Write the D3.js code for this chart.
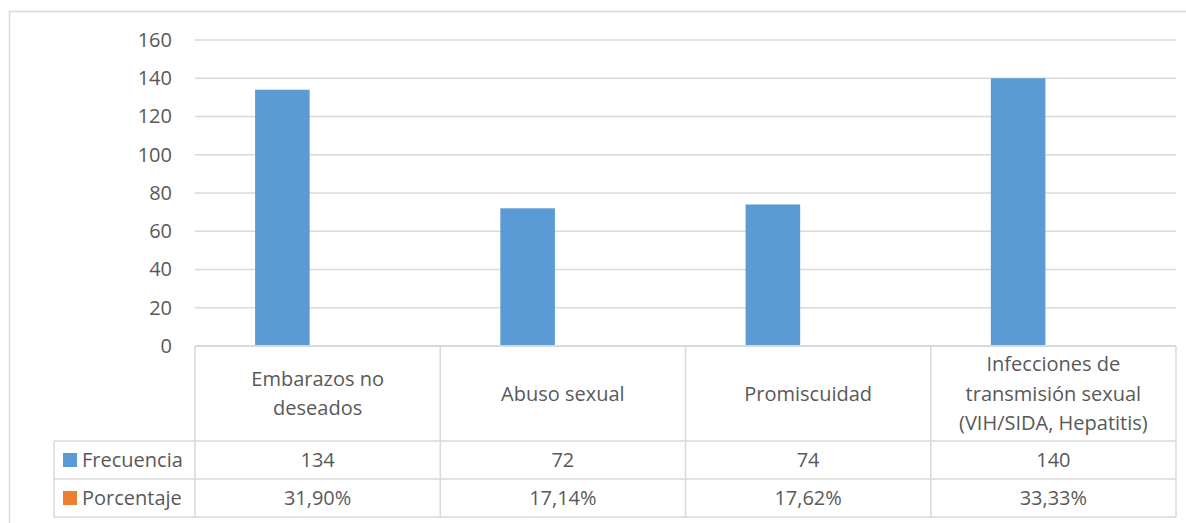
<!DOCTYPE html>
<html>
<head>
<meta charset="utf-8">
<script src="https://cdn.jsdelivr.net/npm/d3@7"></script>
<style>
  html, body { margin: 0; padding: 0; background: #fff; }
  svg { display: block; }
  text { font-family: "Open Sans", sans-serif; fill: #595959; }
</style>
</head>
<body>
<svg id="chart" width="1186" height="523"></svg>
<script>
// ---- data ----
const categories = [
  ["Embarazos no", "deseados"],
  ["Abuso sexual"],
  ["Promiscuidad"],
  ["Infecciones de", "transmisión sexual", "(VIH/SIDA, Hepatitis)"]
];
const seriesNames = ["Frecuencia", "Porcentaje"];
const frecuencia = [134, 72, 74, 140];
const porcentaje = [31.90, 17.14, 17.62, 33.33];
const porcentajeLabels = ["31,90%", "17,14%", "17,62%", "33,33%"];
const yTicks = [0, 20, 40, 60, 80, 100, 120, 140, 160];
const colors = ["#5B9BD5", "#ED7D31"];

// ---- layout ----
const svg = d3.select("#chart");
const W = 1186, H = 523;
const plotLeft = 195, plotRight = 1176, plotTop = 40, plotBottom = 346;
const headerBottom = 441, row1Bottom = 479, row2Bottom = 517;
const legendLeft = 54;
const fontSize = 20;
const gridColor = "#D9D9D9";

// outer chart border
svg.append("rect")
  .attr("x", 9.5).attr("y", 11.5)
  .attr("width", W).attr("height", H)
  .attr("fill", "none").attr("stroke", gridColor).attr("stroke-width", 1.5);

const catKeys = categories.map((c, i) => i);
const x0 = d3.scaleBand().domain(catKeys).range([plotLeft, plotRight]).padding(0);
const bw = x0.bandwidth();
const x1 = d3.scaleBand().domain(seriesNames).range([bw * 0.245, bw * 0.69]).padding(0);
const y = d3.scaleLinear().domain([0, 160]).range([plotBottom, plotTop]);

// gridlines
svg.append("g").selectAll("line").data(yTicks.filter(t => t > 0)).join("line")
  .attr("x1", plotLeft).attr("x2", plotRight)
  .attr("y1", d => y(d)).attr("y2", d => y(d))
  .attr("stroke", gridColor).attr("stroke-width", 1.5);

// y axis labels
const yAxis = d3.axisLeft(y).tickValues(yTicks).tickSize(0).tickPadding(0);
const gy = svg.append("g").attr("transform", `translate(172,0)`).call(yAxis);
gy.select(".domain").remove();
gy.selectAll("text")
  .style("font-family", '"Open Sans", sans-serif')
  .style("font-size", fontSize + "px")
  .attr("fill", "#595959");

// bars
const seriesData = [frecuencia, porcentaje.map(v => v / 100)];
seriesNames.forEach((s, si) => {
  svg.append("g").selectAll("rect").data(seriesData[si]).join("rect")
    .attr("x", (d, i) => x0(i) + x1(s))
    .attr("width", x1.bandwidth())
    .attr("y", d => y(d))
    .attr("height", d => y(0) - y(d))
    .attr("fill", colors[si]);
});

// ---- data table ----
const tbl = svg.append("g").attr("stroke", gridColor).attr("stroke-width", 1.5);
// top (axis) line
tbl.append("line").attr("x1", plotLeft).attr("x2", plotRight).attr("y1", plotBottom).attr("y2", plotBottom).attr("stroke-width", 2);
// row lines
[headerBottom, row1Bottom, row2Bottom].forEach(yy => {
  tbl.append("line").attr("x1", legendLeft).attr("x2", plotRight).attr("y1", yy).attr("y2", yy);
});
// vertical lines
tbl.append("line").attr("x1", legendLeft).attr("x2", legendLeft).attr("y1", headerBottom).attr("y2", row2Bottom);
catKeys.forEach(i => {
  tbl.append("line").attr("x1", x0(i)).attr("x2", x0(i)).attr("y1", plotBottom).attr("y2", row2Bottom);
});
tbl.append("line").attr("x1", plotRight).attr("x2", plotRight).attr("y1", plotBottom).attr("y2", row2Bottom);

// category header labels
const lineH = 29.5;
const headerMid = (plotBottom + headerBottom) / 2;
categories.forEach((lines, i) => {
  const cx = x0(i) + bw / 2;
  const t = svg.append("text")
    .attr("text-anchor", "middle")
    .style("font-size", fontSize + "px");
  lines.forEach((ln, j) => {
    t.append("tspan")
      .attr("x", cx)
      .attr("y", headerMid + (j - (lines.length - 1) / 2) * lineH)
      .attr("dy", "0.35em")
      .text(ln);
  });
});

// rows
const rowMids = [(headerBottom + row1Bottom) / 2, (row1Bottom + row2Bottom) / 2];
const rowValues = [frecuencia.map(String), porcentajeLabels];
seriesNames.forEach((s, si) => {
  svg.append("rect")
    .attr("x", 63).attr("y", rowMids[si] - 7)
    .attr("width", 14).attr("height", 14)
    .attr("fill", colors[si]);
  svg.append("text")
    .attr("x", 82).attr("y", rowMids[si]).attr("dy", "0.35em")
    .style("font-size", fontSize + "px")
    .text(s);
  rowValues[si].forEach((v, i) => {
    svg.append("text")
      .attr("x", x0(i) + bw / 2).attr("y", rowMids[si]).attr("dy", "0.35em")
      .attr("text-anchor", "middle")
      .style("font-size", fontSize + "px")
      .text(v);
  });
});
</script>
</body>
</html>
